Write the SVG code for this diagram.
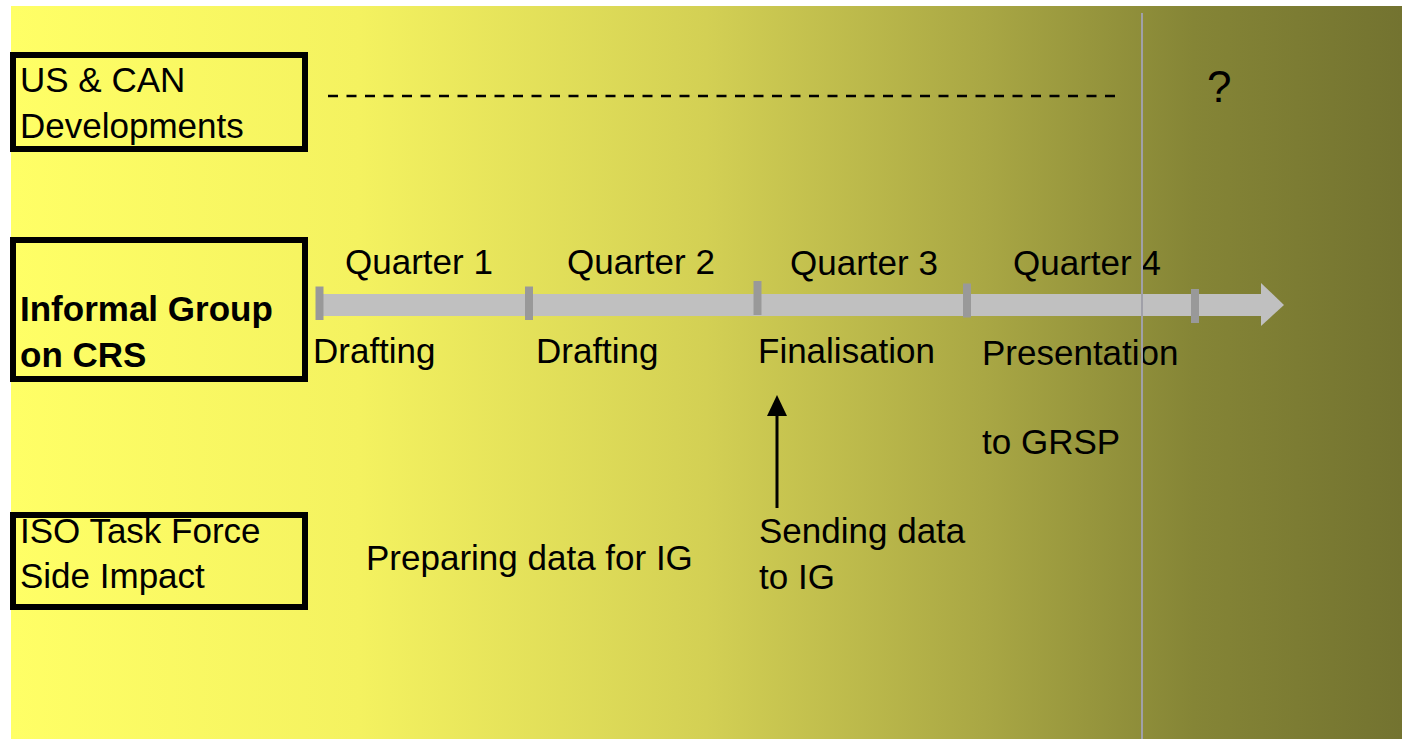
<svg xmlns="http://www.w3.org/2000/svg" width="1402" height="739" viewBox="0 0 1402 739">
<defs>
<linearGradient id="bg" x1="0" y1="0" x2="1" y2="0">
<stop offset="0" stop-color="#FFFF66"/>
<stop offset="0.25" stop-color="#F4F260"/>
<stop offset="0.5" stop-color="#D3D054"/>
<stop offset="0.7" stop-color="#A9A744"/>
<stop offset="0.85" stop-color="#858536"/>
<stop offset="1" stop-color="#737330"/>
</linearGradient>
</defs>
<style>
text{font-family:"Liberation Sans",Arial,sans-serif;font-size:35px;fill:#000}
.b{font-weight:bold}
.box{fill:none;stroke:#000;stroke-width:6}
.tick{fill:#999999}
</style>
<rect x="11" y="6" width="1391" height="733" fill="url(#bg)"/>
<g id="node-us">
<rect class="box" x="13" y="55" width="292" height="94"/>
<text x="20" y="92">US &amp; CAN</text>
<text x="20" y="138">Developments</text>
</g>
<g id="node-ig">
<rect class="box" x="13" y="240" width="292" height="139"/>
<text class="b" x="20" y="321">Informal Group</text>
<text class="b" x="20" y="367">on CRS</text>
</g>
<g id="node-iso">
<rect class="box" x="13" y="515" width="292" height="92"/>
<text x="20" y="543">ISO Task Force</text>
<text x="20" y="588">Side Impact</text>
</g>
<g id="timeline">
<rect x="318" y="294" width="945" height="22" fill="#C0C0C0"/>
<polygon points="1261,283 1284,305 1261,326" fill="#C0C0C0"/>
<rect class="tick" x="315.5" y="286.5" width="8" height="33.5"/>
<rect class="tick" x="525" y="286.5" width="8" height="33.5"/>
<rect class="tick" x="753.5" y="281" width="8" height="34"/>
<rect class="tick" x="963" y="283.5" width="8" height="34"/>
<rect class="tick" x="1191" y="289" width="8" height="34"/>
<text x="345" y="274">Quarter 1</text>
<text x="567" y="274">Quarter 2</text>
<text x="790" y="275">Quarter 3</text>
<text x="1013" y="275">Quarter 4</text>
<text x="313" y="363">Drafting</text>
<text x="536" y="363">Drafting</text>
<text x="758" y="363">Finalisation</text>
<text x="982" y="365">Presentation</text>
<text x="982" y="454">to GRSP</text>
</g>
<g id="node-iso-text">
<text x="366" y="570">Preparing data for IG</text>
<text x="759" y="543">Sending data</text>
<text x="759" y="589">to IG</text>
</g>
<g id="node-q">
<text x="1207" y="102" style="font-size:44px">?</text>
</g>
<g id="connectors">
<line x1="328" y1="96" x2="1116" y2="96" stroke="#000" stroke-width="2.5" stroke-dasharray="10 8.5"/>
<line x1="777" y1="508" x2="777" y2="414" stroke="#000" stroke-width="3"/>
<polygon points="767,416 777,395 787,416" fill="#000"/>
<line x1="1142" y1="13" x2="1142" y2="739" stroke="#A0A0A8" stroke-width="2"/>
</g>
</svg>
